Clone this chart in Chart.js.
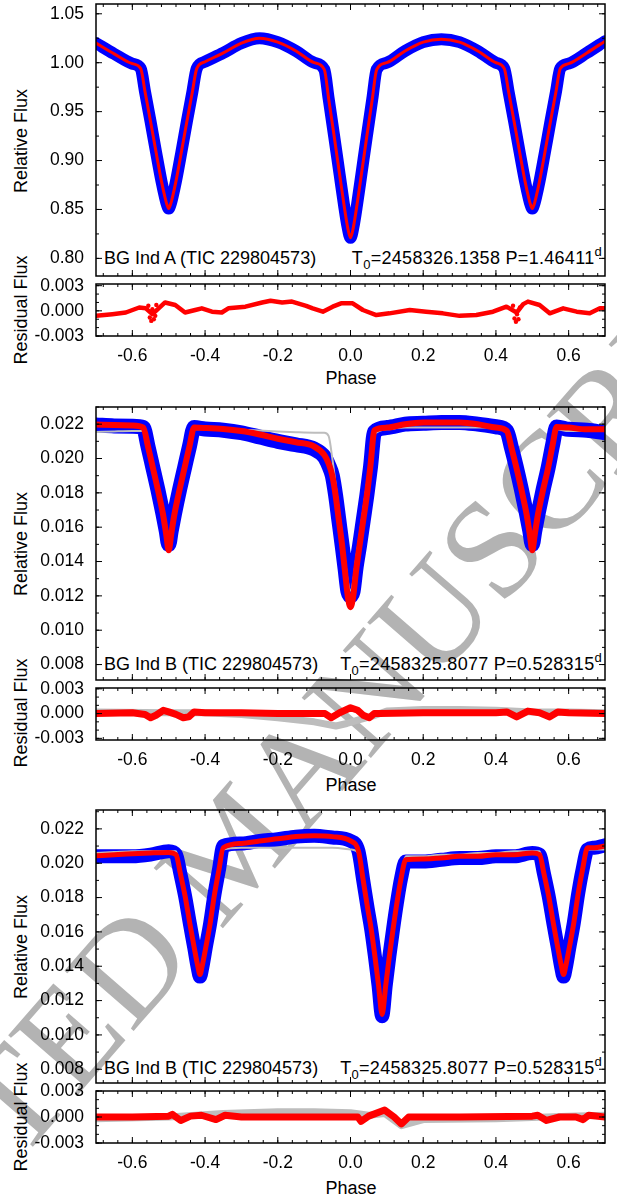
<!DOCTYPE html>
<html lang="en">
<head>
<meta charset="UTF-8">
<title>BG Ind light curves</title>
<script src="https://cdn.jsdelivr.net/npm/chart.js"></script>
<style>
  body { margin: 0; background: #fff; }
  #fig { position: relative; width: 617px; height: 1198px; overflow: hidden; font-family: 'Liberation Sans', Arial, sans-serif; color: #000; }
  #fig canvas { position: absolute; left: 0; }
  .txt { position: absolute; font-size: 18px; line-height: 18px; white-space: nowrap; }
  .eph { letter-spacing: 0.3px; }
  .rot { transform: translate(-50%, -50%) rotate(-90deg); }
  .ctr { transform: translate(-50%, -50%); }
  .sub { font-size: 13px; position: relative; top: 5px; }
  .sup { font-size: 13px; position: relative; top: -8px; }
  .wm { position: absolute; font-family: 'Liberation Serif', 'DejaVu Serif', serif; font-size: 140px; line-height: 140px; color: #b3b3b3; white-space: nowrap; transform: translate(-50%, -50%) rotate(-49deg); }
</style>
</head>
<body>
<div id="fig">
  <div class="wm" style="left:232px; top:846px">ACCEPTED MANUSCRIPT</div>

  <!-- panel 1 -->
  <div class="txt rot" style="left:21px; top:141px">Relative Flux</div>
  <div class="txt rot" style="left:21px; top:310px">Residual Flux</div>
  <div class="txt" style="left:104px; top:249px">BG Ind A (TIC 229804573)</div>
  <div class="txt eph" style="right:15px; top:249px">T<span class="sub">0</span>=2458326.1358 P=1.46411<span class="sup">d</span></div>
  <div class="txt ctr" style="left:351px; top:378px">Phase</div>

  <!-- panel 2 -->
  <div class="txt rot" style="left:21px; top:544px">Relative Flux</div>
  <div class="txt rot" style="left:21px; top:713px">Residual Flux</div>
  <div class="txt" style="left:104px; top:655px">BG Ind B (TIC 229804573)</div>
  <div class="txt eph" style="right:15px; top:655px">T<span class="sub">0</span>=2458325.8077 P=0.528315<span class="sup">d</span></div>
  <div class="txt ctr" style="left:351px; top:785px">Phase</div>

  <!-- panel 3 -->
  <div class="txt rot" style="left:21px; top:947px">Relative Flux</div>
  <div class="txt rot" style="left:21px; top:1117px">Residual Flux</div>
  <div class="txt" style="left:104px; top:1059px">BG Ind B (TIC 229804573)</div>
  <div class="txt eph" style="right:15px; top:1059px">T<span class="sub">0</span>=2458325.8077 P=0.528315<span class="sup">d</span></div>
  <div class="txt ctr" style="left:351px; top:1188px">Phase</div>
</div>

<script>
// tick labels
const xTicks = [-0.6, -0.4, -0.2, 0.0, 0.2, 0.4, 0.6];
const yTicksA = [0.80, 0.85, 0.90, 0.95, 1.00, 1.05];
const yTicksB = [0.008, 0.010, 0.012, 0.014, 0.016, 0.018, 0.020, 0.022];
const resTicks = [-0.003, 0.000, 0.003];

// BG Ind A: observed (blue) and model (red) follow the same curve
const phaseA = [
  -0.70, -0.65, -0.60, -0.577, -0.565, -0.55, -0.535, -0.52, -0.51, -0.505,
  -0.50, -0.495, -0.49, -0.48, -0.465, -0.45, -0.435, -0.423, -0.40, -0.35,
  -0.30, -0.25, -0.20, -0.15, -0.10, -0.072, -0.06, -0.045, -0.03, -0.018,
  -0.008, 0.00, 0.008, 0.018, 0.03, 0.045, 0.06, 0.072, 0.10, 0.15,
  0.20, 0.25, 0.30, 0.35, 0.40, 0.423, 0.435, 0.45, 0.465, 0.48,
  0.49, 0.495, 0.50, 0.505, 0.51, 0.52, 0.535, 0.55, 0.565, 0.577,
  0.60, 0.65, 0.70];
const fluxA = [
  1.020, 1.009, 0.999, 0.994, 0.970, 0.940, 0.909, 0.879, 0.862, 0.855,
  0.851, 0.855, 0.862, 0.879, 0.909, 0.940, 0.970, 0.994, 1.001, 1.010,
  1.020, 1.025, 1.021, 1.012, 1.000, 0.993, 0.963, 0.925, 0.886, 0.855,
  0.832, 0.821, 0.832, 0.855, 0.886, 0.925, 0.963, 0.993, 1.000, 1.012,
  1.021, 1.024, 1.021, 1.012, 1.000, 0.994, 0.970, 0.940, 0.909, 0.879,
  0.862, 0.855, 0.851, 0.855, 0.862, 0.879, 0.909, 0.940, 0.970, 0.994,
  0.999, 1.010, 1.022];

const phaseResA = [
  -0.70, -0.655, -0.618, -0.581, -0.563, -0.545, -0.530, -0.510, -0.482, -0.455,
  -0.427, -0.409, -0.381, -0.354, -0.336, -0.289, -0.243, -0.220, -0.188, -0.161,
  -0.122, -0.104, -0.076, -0.049, -0.026, 0.006, 0.034, 0.071, 0.107, 0.163,
  0.208, 0.254, 0.300, 0.346, 0.392, 0.429, 0.457, 0.475, 0.488, 0.520,
  0.548, 0.585, 0.622, 0.658, 0.686, 0.70];
const residA = [
  -0.0006, -0.0004, -0.0002, 0.0004, 0.0003, -0.0004, 0.0002, 0.0010, 0.0007, -0.0002,
  0.0001, 0.0003, -0.0001, -0.0002, 0.0003, 0.0005, 0.0010, 0.0012, 0.0010, 0.0011,
  0.0006, 0.0003, -0.0001, 0.0005, 0.0009, 0.0009, 0.0001, -0.0005, -0.0003, 0.0001,
  -0.0001, -0.0003, -0.0006, -0.0005, -0.0001, 0.0005, -0.0002, 0.0008, 0.0011, 0.0007,
  -0.0003, 0.0003, -0.0001, -0.0003, 0.0003, 0.0003];
// scattered residuals inside the secondary eclipses
const phaseScatA = [-0.556, -0.552, -0.548, -0.545, -0.541, -0.537, -0.534, 0.447, 0.451, 0.455, 0.458, 0.462, 0.466];
const residScatA = [0.0006, -0.0008, -0.0012, 0.0002, -0.0010, -0.0006, 0.0007, 0.0006, -0.0009, -0.0013, -0.0004, -0.0010, 0.0004];

// BG Ind B, first solution
const phaseB = [
  -0.70, -0.65, -0.60,
  -0.57, -0.557, -0.544, -0.53, -0.516, -0.507, -0.50, -0.493, -0.484, -0.47, -0.456, -0.443, -0.43,
  -0.40, -0.35, -0.30, -0.25, -0.20, -0.15, -0.10,
  -0.072, -0.06, -0.05, -0.041, -0.032, -0.023, -0.015, -0.007, 0.00, 0.007, 0.015, 0.025, 0.035, 0.045, 0.055, 0.066,
  0.10, 0.15, 0.20, 0.25, 0.30, 0.35, 0.40,
  0.43, 0.443, 0.456, 0.47, 0.484, 0.493, 0.50, 0.507, 0.516, 0.53, 0.544, 0.556, 0.567,
  0.60, 0.65, 0.70];
const obsB = [
  0.02195, 0.02190, 0.02188,
  0.0218, 0.0207, 0.0195, 0.0182, 0.01679, 0.0158, 0.0150, 0.0158, 0.01679, 0.0182, 0.0195, 0.0207, 0.0218,
  0.02172, 0.02165, 0.02150, 0.02125, 0.02100, 0.02080, 0.02055,
  0.0201, 0.0196, 0.0190, 0.01786, 0.0164, 0.01494, 0.0136, 0.01225, 0.0120, 0.01225, 0.0136, 0.01494, 0.0164, 0.01786, 0.0195, 0.02155,
  0.0218, 0.0220, 0.02205, 0.0221, 0.0221, 0.0220, 0.02185,
  0.0216, 0.0206, 0.0195, 0.0182, 0.01679, 0.0158, 0.0150, 0.0158, 0.01679, 0.0182, 0.0195, 0.0208, 0.02184,
  0.0217, 0.02165, 0.0215];
const modelB = [
  0.02198, 0.02195, 0.02192,
  0.0218, 0.0207, 0.0195, 0.0182, 0.01679, 0.0156, 0.01465, 0.0156, 0.01679, 0.0182, 0.0195, 0.0207, 0.0218,
  0.02178, 0.02172, 0.02160, 0.02140, 0.02115, 0.02095, 0.02070,
  0.0202, 0.0197, 0.0190, 0.01786, 0.0164, 0.01494, 0.0134, 0.0119, 0.01134, 0.0119, 0.0134, 0.01494, 0.0164, 0.01786, 0.0196, 0.02165,
  0.0218, 0.0220, 0.0221, 0.0221, 0.0221, 0.0220, 0.0218,
  0.0216, 0.0206, 0.0195, 0.0182, 0.01679, 0.0156, 0.01465, 0.0156, 0.01679, 0.0182, 0.0195, 0.0208, 0.02184,
  0.0218, 0.0217, 0.0217];
const altB = [
  0.02155, 0.02158, 0.02160,
  0.0216, 0.0206, 0.0195, 0.0183, 0.0170, 0.0160, 0.0152, 0.0160, 0.0170, 0.0183, 0.0195, 0.0207, 0.0217,
  0.02172, 0.02172, 0.02168, 0.02163, 0.02158, 0.02153, 0.02150,
  0.0215, 0.0213, 0.0200, 0.0185, 0.0170, 0.0155, 0.0141, 0.0128, 0.0123, 0.0128, 0.0141, 0.0155, 0.0170, 0.0185, 0.0200, 0.0214,
  0.0217, 0.0218, 0.0218, 0.0218, 0.0218, 0.0218, 0.0218,
  0.0216, 0.0206, 0.0195, 0.0183, 0.0170, 0.0160, 0.0152, 0.0160, 0.0170, 0.0183, 0.0195, 0.0207, 0.0217,
  0.0216, 0.0216, 0.0216];

const phaseResB = [
  -0.70, -0.60, -0.565, -0.55, -0.535, -0.515, -0.50, -0.48, -0.46, -0.445,
  -0.43, -0.40, -0.30, -0.20, -0.10, -0.07, -0.053, -0.03, 0.00, 0.02,
  0.035, 0.052, 0.065, 0.08, 0.20, 0.30, 0.40, 0.43, 0.457, 0.488,
  0.52, 0.548, 0.57, 0.60, 0.70];
const residB = [
  0.0000, 0.0001, -0.0001, -0.0005, -0.0002, 0.0004, 0.0002, -0.0001, -0.0005, -0.0004,
  0.0002, 0.0001, 0.0001, 0.0000, 0.0000, 0.0000, -0.0005, 0.0001, 0.0007, 0.0004,
  -0.0002, -0.0005, 0.0000, 0.0000, 0.0001, 0.0001, 0.0001, 0.0002, -0.0004, 0.0003,
  0.0001, -0.0004, 0.0002, 0.0001, 0.0000];
const phaseAltResB = [-0.70, -0.50, -0.40, -0.30, -0.20, -0.10, -0.04, -0.01, 0.02, 0.06, 0.10, 0.20, 0.30, 0.40, 0.50, 0.60, 0.70];
const altResB = [0.0002, 0.0001, 0.0001, -0.0001, -0.0005, -0.0010, -0.0015, -0.0012, -0.0008, -0.0003, 0.0003, 0.0005, 0.0005, 0.0004, 0.0002, 0.0002, 0.0001];

// BG Ind B, second solution
const phaseC = [
  -0.70, -0.65, -0.60, -0.55, -0.50,
  -0.48, -0.468, -0.455, -0.442, -0.43, -0.42, -0.414, -0.408, -0.398, -0.386, -0.374, -0.362, -0.35,
  -0.30, -0.25, -0.20, -0.15, -0.10, -0.05, 0.00,
  0.022, 0.035, 0.047, 0.057, 0.067, 0.077, 0.087, 0.097, 0.107, 0.117, 0.127, 0.139, 0.152,
  0.20, 0.25, 0.30, 0.35, 0.40, 0.45, 0.50,
  0.52, 0.532, 0.545, 0.558, 0.57, 0.58, 0.586, 0.592, 0.602, 0.614, 0.626, 0.638, 0.652,
  0.67, 0.70];
const obsC = [
  0.0204, 0.0204, 0.0204, 0.0205, 0.0207,
  0.0205, 0.0194, 0.01809, 0.0165, 0.0151, 0.0139, 0.0134, 0.0139, 0.0151, 0.0165, 0.0182, 0.0196, 0.0210,
  0.02115, 0.0213, 0.0214, 0.02155, 0.0216, 0.0215, 0.0213,
  0.0207, 0.0190, 0.0174, 0.01615, 0.0146, 0.0129, 0.01109, 0.0129, 0.0146, 0.01615, 0.0176, 0.0191, 0.0201,
  0.0201, 0.0202, 0.0203, 0.0203, 0.0204, 0.0204, 0.0206,
  0.0205, 0.0194, 0.01809, 0.0165, 0.0151, 0.0139, 0.0134, 0.0139, 0.0151, 0.0165, 0.0182, 0.0196, 0.0208,
  0.0209, 0.02105];
const modelC = [
  0.02043, 0.0205, 0.02055, 0.0206, 0.02063,
  0.0205, 0.0194, 0.01809, 0.0165, 0.0151, 0.0140, 0.01352, 0.0140, 0.0151, 0.0165, 0.0182, 0.0196, 0.0209,
  0.02115, 0.0213, 0.02142, 0.02155, 0.0216, 0.02155, 0.0213,
  0.0207, 0.0190, 0.0174, 0.01615, 0.0146, 0.0129, 0.01119, 0.0129, 0.0146, 0.01615, 0.0176, 0.0191, 0.0202,
  0.02025, 0.0203, 0.0204, 0.0204, 0.0205, 0.0205, 0.0206,
  0.0205, 0.0194, 0.01809, 0.0165, 0.0151, 0.0140, 0.01352, 0.0140, 0.0151, 0.0165, 0.0182, 0.0196, 0.0209,
  0.0209, 0.0210];
const altC = [
  0.0206, 0.02065, 0.0207, 0.0207, 0.0207,
  0.0207, 0.0195, 0.0181, 0.0166, 0.0152, 0.0141, 0.0136, 0.0141, 0.0152, 0.0166, 0.0182, 0.0197, 0.0208,
  0.0209, 0.0209, 0.0209, 0.0209, 0.0209, 0.0209, 0.0208,
  0.0206, 0.0191, 0.0175, 0.0163, 0.0148, 0.0131, 0.0114, 0.0131, 0.0148, 0.0163, 0.0177, 0.0192, 0.0204,
  0.0204, 0.0205, 0.0205, 0.0206, 0.0206, 0.0207, 0.0207,
  0.0207, 0.0195, 0.0181, 0.0166, 0.0152, 0.0141, 0.0136, 0.0141, 0.0152, 0.0166, 0.0182, 0.0197, 0.0208,
  0.0208, 0.0208];

const phaseResC = [
  -0.70, -0.60, -0.50, -0.49, -0.467, -0.44, -0.41, -0.37, -0.345, -0.30,
  -0.20, -0.10, 0.00, 0.02, 0.029, 0.05, 0.094, 0.12, 0.14, 0.16,
  0.30, 0.50, 0.515, 0.539, 0.575, 0.62, 0.64, 0.655, 0.70];
const residC = [
  0.0000, 0.0000, 0.0001, 0.0003, -0.0004, 0.0001, 0.0002, -0.0003, 0.0002, 0.0000,
  0.0000, 0.0000, 0.0000, 0.0000, -0.0005, 0.0001, 0.0008, 0.0000, -0.0008, 0.0000,
  0.0000, 0.0001, 0.0002, -0.0004, 0.0000, 0.0000, -0.0003, 0.0002, 0.0000];
const phaseAltResC = [-0.70, -0.50, -0.35, -0.20, -0.10, 0.00, 0.05, 0.094, 0.14, 0.20, 0.40, 0.60, 0.70];
const altResC = [-0.0002, 0.0000, 0.0004, 0.0006, 0.0006, 0.0005, 0.0002, 0.0004, -0.0010, -0.0003, -0.0002, 0.0001, 0.0002];

const BLUE = '#0000ff', RED = '#ff0000', GREY = '#bdbdbd';

Chart.defaults.font.family = "'Liberation Sans', Arial, sans-serif";
Chart.defaults.font.size = 17.5;
Chart.defaults.color = '#000';

const fig = document.getElementById('fig');

function series(xs, ys, color, width, smooth) {
  return {
    data: xs.map((x, i) => ({ x: x, y: ys[i] })),
    showLine: true, borderColor: color, backgroundColor: color, borderWidth: width,
    pointRadius: 0, borderJoinStyle: 'round', borderCapStyle: 'round',
    cubicInterpolationMode: smooth ? 'monotone' : 'default'
  };
}

function dots(xs, ys, color, r) {
  return {
    data: xs.map((x, i) => ({ x: x, y: ys[i] })),
    showLine: false, backgroundColor: color, borderWidth: 0, pointRadius: r
  };
}

// gnuplot-like frame with inward major and minor ticks on all four sides
function framePlugin(yTicks, yMinor) {
  return {
    id: 'frame',
    afterDraw(chart) {
      const { ctx, chartArea: a } = chart;
      const x = chart.scales.x, y = chart.scales.y;
      ctx.save();
      ctx.strokeStyle = '#000';
      ctx.lineWidth = 1;
      ctx.beginPath();
      const tx = (v, len) => {
        const p = x.getPixelForValue(v);
        ctx.moveTo(p, a.bottom); ctx.lineTo(p, a.bottom - len);
        ctx.moveTo(p, a.top); ctx.lineTo(p, a.top + len);
      };
      const ty = (v, len) => {
        const p = y.getPixelForValue(v);
        ctx.moveTo(a.left, p); ctx.lineTo(a.left + len, p);
        ctx.moveTo(a.right, p); ctx.lineTo(a.right - len, p);
      };
      xTicks.forEach(v => tx(v, 6));
      for (let k = Math.ceil(x.min / 0.04 - 1e-6); k * 0.04 <= x.max + 1e-9; k++) tx(k * 0.04, 3);
      yTicks.forEach(v => ty(v, 6));
      for (let k = Math.ceil(y.min / yMinor - 1e-6); k * yMinor <= y.max + 1e-12; k++) ty(k * yMinor, 3);
      ctx.stroke();
      ctx.lineWidth = 1.5;
      ctx.strokeRect(a.left, a.top, a.width, a.height);
      ctx.restore();
    }
  };
}

function makeChart(top, height, padTop, datasets, yMin, yMax, yTicks, digits, yMinor, showX) {
  const c = document.createElement('canvas');
  c.width = 617;
  c.height = height;
  c.style.top = top + 'px';
  fig.appendChild(c);
  return new Chart(c, {
    type: 'scatter',
    data: { datasets: datasets },
    options: {
      responsive: false,
      animation: false,
      events: [],
      layout: { padding: { top: padTop, right: 12, bottom: showX ? 0 : 12, left: 0 } },
      plugins: { legend: { display: false }, tooltip: { enabled: false } },
      scales: {
        x: {
          type: 'linear', min: -0.7, max: 0.7, display: showX,
          grid: { display: false, drawTicks: false }, border: { display: false },
          afterBuildTicks: s => { s.ticks = xTicks.map(v => ({ value: v })); },
          afterFit: s => { if (showX) s.height = 40; s.paddingLeft = 0; s.paddingRight = 0; },
          ticks: { autoSkip: false, maxRotation: 0, padding: 10, callback: v => v.toFixed(1) }
        },
        y: {
          type: 'linear', min: yMin, max: yMax,
          grid: { display: false, drawTicks: false }, border: { display: false },
          afterBuildTicks: s => { s.ticks = yTicks.map(v => ({ value: v })); },
          afterFit: s => { s.width = 96; s.paddingTop = 0; s.paddingBottom = 0; },
          ticks: { autoSkip: false, padding: 12, callback: v => v.toFixed(digits) }
        }
      }
    },
    plugins: [framePlugin(yTicks, yMinor)]
  });
}

// panel 1 : BG Ind A
makeChart(-8, 296, 12, [
  series(phaseA, fluxA, RED, 3, true),
  series(phaseA, fluxA, BLUE, 12, true)
], 0.782, 1.06, yTicksA, 2, 0.025, false);
makeChart(274, 102, 10, [
  dots(phaseScatA, residScatA, RED, 2.2),
  series(phaseResA, residA, RED, 4.5, false)
], -0.003, 0.0032, resTicks, 3, 0.001, true);

// panel 2 : BG Ind B
makeChart(395, 297, 12, [
  series(phaseB, modelB, RED, 6, true),
  series(phaseB, altB, GREY, 2, true),
  series(phaseB, obsB, BLUE, 15, true)
], 0.0071, 0.0230, yTicksB, 3, 0.001, false);
makeChart(678, 102, 10, [
  series(phaseResB, residB, RED, 7, false),
  series(phaseAltResB, altResB, GREY, 7, false)
], -0.0032, 0.0031, resTicks, 3, 0.001, true);

// panel 3 : BG Ind B, shifted
makeChart(798, 297, 12, [
  series(phaseC, modelC, RED, 5, true),
  series(phaseC, altC, GREY, 2, true),
  series(phaseC, obsC, BLUE, 14, true)
], 0.0072, 0.0231, yTicksB, 3, 0.001, false);
makeChart(1081, 102, 10, [
  series(phaseResC, residC, RED, 7, false),
  series(phaseAltResC, altResC, GREY, 7, false)
], -0.003, 0.003, resTicks, 3, 0.001, true);
</script>
</body>
</html>
